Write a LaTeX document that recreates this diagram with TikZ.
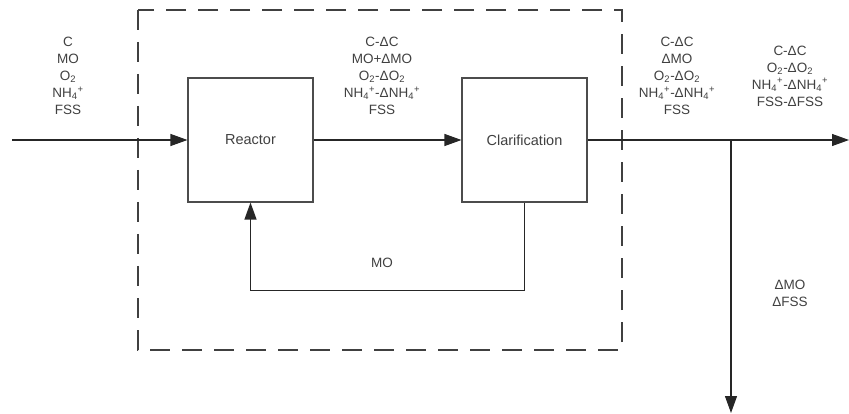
\documentclass[tikz,border=0pt]{standalone}
\usepackage{fontspec}
\setmainfont{Liberation Sans}
\usetikzlibrary{arrows.meta}
\begin{document}
\begin{tikzpicture}[x=1pt,y=-1pt,
  flow/.style={line width=1.1pt,draw=black!85,-{Triangle[length=17pt,width=12pt]}},
  unit/.style={draw=black!70,line width=1.1pt,minimum width=125pt,minimum height=124pt,inner sep=0pt,
    font=\fontsize{14.5}{17}\selectfont,text=black!75},
  lbl/.style={align=center,font=\fontsize{13.5}{17}\selectfont,text=black!75,inner sep=0pt},
  bound/.style={draw=black!75,line width=1.1pt,dash pattern=on 20pt off 12pt}]
\useasboundingbox (0,0) rectangle (849,414);
\draw[bound] (138,10) rectangle (622,350);
\node[unit] (reactor) at (250.5,140) {Reactor};
\node[unit] (clar) at (524.5,140) {Clarification};
\coordinate (start) at (12,140);
\coordinate (outend) at (849,140);
\coordinate (branch) at (731,140);
\coordinate (branchend) at (731,413);
\draw[flow] (start) -- (reactor.west);
\draw[flow] (reactor.east) -- (clar.west);
\draw[flow] (clar.east) -- (outend);
\draw[flow] (branch) -- (branchend);
\draw[flow] (clar.south) -- ++(0,88) -| (reactor.south);
\node[lbl] (lin) at (68,76) {C\\MO\\O\textsubscript{2}\\NH\textsubscript{4}\textsuperscript{+}\\FSS};
\node[lbl] (lmid) at (382,76) {C-ΔC\\MO+ΔMO\\O\textsubscript{2}-ΔO\textsubscript{2}\\NH\textsubscript{4}\textsuperscript{+}-ΔNH\textsubscript{4}\textsuperscript{+}\\FSS};
\node[lbl] (lout1) at (677,76) {C-ΔC\\ΔMO\\O\textsubscript{2}-ΔO\textsubscript{2}\\NH\textsubscript{4}\textsuperscript{+}-ΔNH\textsubscript{4}\textsuperscript{+}\\FSS};
\node[lbl] (lout2) at (790,76) {C-ΔC\\O\textsubscript{2}-ΔO\textsubscript{2}\\NH\textsubscript{4}\textsuperscript{+}-ΔNH\textsubscript{4}\textsuperscript{+}\\FSS-ΔFSS};
\node[lbl] (lsludge) at (790,293) {ΔMO\\ΔFSS};
\node[lbl] (lrec) at (382,263) {MO};
\end{tikzpicture}
\end{document}
